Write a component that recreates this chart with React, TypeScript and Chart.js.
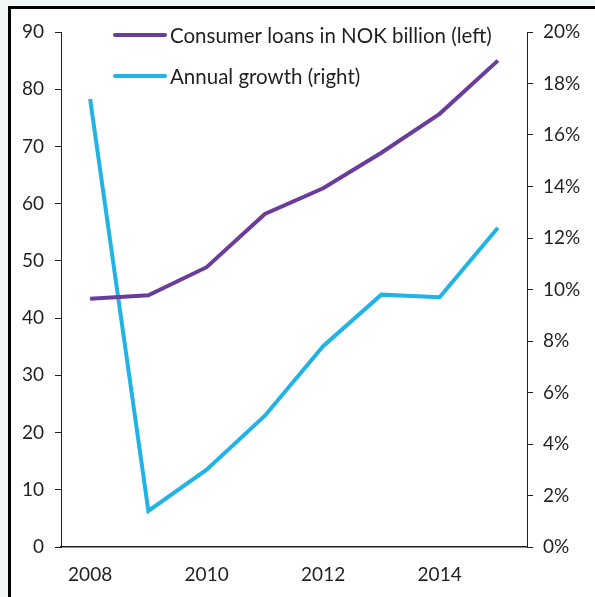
import React, { useEffect, useRef } from "react";
import { Chart, registerables } from "chart.js";

Chart.register(...registerables);

const years = ["2008", "2009", "2010", "2011", "2012", "2013", "2014", "2015"];
const consumerLoans = [43.4, 44.0, 48.9, 58.2, 62.7, 68.9, 75.7, 85.0];
const annualGrowth = [17.4, 1.4, 3.0, 5.1, 7.8, 9.8, 9.7, 12.4];
const seriesLabels = ["Consumer loans in NOK billion (left)", "Annual growth (right)"];

const FONT = "Lato";
const TEXT = "#231f20";

const legendPlugin = {
  id: "insideLegend",
  afterDraw(chart: any) {
    const ctx = chart.ctx;
    const x0 = 115;
    const rows = [35, 76];
    ctx.save();
    chart.data.datasets.forEach((ds: any, i: number) => {
      const y = rows[i];
      ctx.strokeStyle = ds.borderColor;
      ctx.lineWidth = 4;
      ctx.lineCap = "round";
      ctx.beginPath();
      ctx.moveTo(x0, y);
      ctx.lineTo(x0 + 50, y);
      ctx.stroke();
      ctx.fillStyle = TEXT;
      ctx.font = `20.5px ${FONT}`;
      ctx.textBaseline = "middle";
      ctx.textAlign = "left";
      ctx.fillText(ds.label, x0 + 55, y + 1);
    });
    ctx.restore();
  },
};

export default function App() {
  const ref = useRef<HTMLCanvasElement | null>(null);
  useEffect(() => {
    if (!ref.current) return;
    const chart = new Chart(ref.current, {
      type: "line",
      data: {
        labels: years,
        datasets: [
          {
            label: seriesLabels[0],
            data: consumerLoans,
            borderColor: "#6a3d9a",
            borderWidth: 4,
            pointRadius: 0,
            yAxisID: "y",
            tension: 0,
          },
          {
            label: seriesLabels[1],
            data: annualGrowth,
            borderColor: "#22b3e6",
            borderWidth: 4,
            pointRadius: 0,
            yAxisID: "y1",
            tension: 0,
          },
        ],
      },
      plugins: [legendPlugin],
      options: {
        responsive: false,
        animation: false,
        layout: { padding: { top: 32, left: 0, right: 0, bottom: 0 } },
        plugins: { legend: { display: false }, tooltip: { enabled: false } },
        scales: {
          x: {
            offset: true,
            grid: { display: false },
            border: { display: true, color: "#231f20", width: 1.5 },
            ticks: {
              autoSkip: false,
              maxRotation: 0,
              padding: 8,
              color: TEXT,
              font: { family: FONT, size: 19 },
              callback: (_v: any, i: number) => (i % 2 === 0 ? years[i] : ""),
            },
            afterFit: (s: any) => {
              s.height = 50;
            },
          },
          y: {
            position: "left",
            min: 0,
            max: 90,
            grid: { drawOnChartArea: false, drawTicks: true, tickLength: 6, color: "#231f20" },
            border: { display: true, color: "#231f20", width: 1 },
            ticks: { stepSize: 10, padding: 11, color: TEXT, font: { family: FONT, size: 19 } },
            afterFit: (s: any) => {
              s.width = 61;
            },
          },
          y1: {
            position: "right",
            min: 0,
            max: 20,
            grid: { drawOnChartArea: false, drawTicks: true, tickLength: 6, color: "#231f20" },
            border: { display: true, color: "#231f20", width: 1 },
            ticks: {
              stepSize: 2,
              padding: 10,
              color: TEXT,
              font: { family: FONT, size: 19 },
              callback: (v: any) => `${v}%`,
            },
            afterFit: (s: any) => {
              s.width = 68;
            },
          },
        },
      },
    });
    return () => chart.destroy();
  }, []);

  return (
    <div style={{ position: "fixed", left: 0, top: 0, width: 595, height: 597, background: "#f2f8f8", overflow: "hidden" }}>
      <div
        style={{
          position: "absolute",
          left: 8,
          top: 6,
          right: 0,
          bottom: 0,
          background: "#ffffff",
          borderTop: "3px solid #000",
          borderLeft: "3px solid #000",
        }}
      />
      <canvas ref={ref} width={595} height={597} style={{ position: "absolute", left: 0, top: 0 }} />
    </div>
  );
}
